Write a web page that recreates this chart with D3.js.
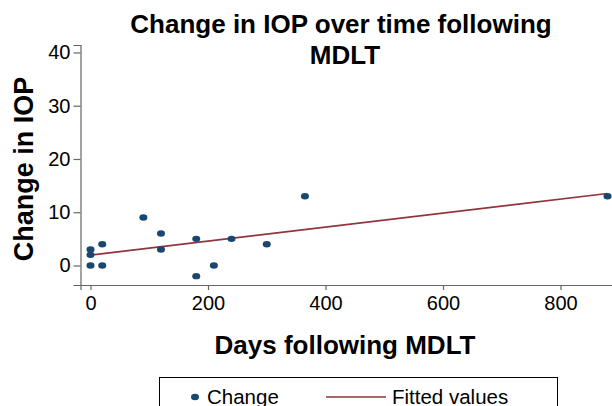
<!DOCTYPE html>
<html>
<head>
<meta charset="utf-8">
<script src="https://cdn.jsdelivr.net/npm/d3@7"></script>
<style>
  body { margin: 0; background: #fff; }
  svg { font-family: Arial, "Liberation Sans", sans-serif; }
</style>
</head>
<body>
<svg id="svg" width="612" height="406"></svg>
<script>
// data
var days   = [0, 0, 0, 20, 20, 90, 120, 120, 180, 180, 210, 240, 300, 365, 880];
var change = [3, 2, 0, 0, 4, 9, 6, 3, 5, -2, 0, 5, 4, 13, 13];
var yTicks = [0, 10, 20, 30, 40];
var xTicks = [0, 200, 400, 600, 800];

var svg = d3.select("#svg");
var navy = "#1a476f", maroon = "#90353b", axisCol = "#666";

var xScale = d3.scaleLinear().domain([-17, 920]).range([80.5, 631]);
var yScale = d3.scaleLinear().domain([-3.66, 41.4]).range([285, 45]);

// least squares fit
var mx = d3.mean(days), my = d3.mean(change);
var sxy = d3.sum(days, (d, i) => (d - mx) * (change[i] - my));
var sxx = d3.sum(days, d => (d - mx) * (d - mx));
var slope = sxy / sxx, icpt = my - slope * mx;

// axes
var yAxis = svg.append("g")
  .attr("transform", "translate(80.5,0)")
  .call(d3.axisLeft(yScale).tickValues(yTicks).tickSize(7).tickPadding(3));
var xAxis = svg.append("g")
  .attr("transform", "translate(0,285)")
  .call(d3.axisBottom(xScale).tickValues(xTicks).tickSize(5).tickPadding(6));

[yAxis, xAxis].forEach(function(a){
  a.attr("font-size", null).attr("font-family", null);
  a.select(".domain").attr("stroke", axisCol).attr("stroke-width", 1.2);
  a.selectAll(".tick line").attr("stroke", axisCol).attr("stroke-width", 1.2);
  a.selectAll("text").attr("fill", "#000").style("font-size", "20px");
});

// fitted line
var ext = d3.extent(days);
svg.append("line")
  .attr("x1", xScale(ext[0])).attr("y1", yScale(icpt + slope * ext[0]))
  .attr("x2", xScale(ext[1])).attr("y2", yScale(icpt + slope * ext[1]))
  .attr("stroke", maroon).attr("stroke-width", 1.6);

// points
svg.append("g").selectAll("ellipse")
  .data(days)
  .enter()
  .append("ellipse")
  .attr("cx", d => xScale(d))
  .attr("cy", (d, i) => yScale(change[i]))
  .attr("rx", 4).attr("ry", 3.2)
  .attr("fill", navy);

// titles
var title = svg.append("text")
  .attr("text-anchor", "middle").attr("font-weight", "bold").style("font-size", "26px");
title.append("tspan").attr("x", 341).attr("y", 32.5).text("Change in IOP over time following");
title.append("tspan").attr("x", 345).attr("y", 63.5).text("MDLT");

svg.append("text")
  .attr("transform", "translate(33,169) rotate(-90)")
  .attr("text-anchor", "middle").attr("font-weight", "bold").style("font-size", "27px")
  .text("Change in IOP");

svg.append("text")
  .attr("x", 345).attr("y", 353.5)
  .attr("text-anchor", "middle").attr("font-weight", "bold").style("font-size", "26px")
  .text("Days following MDLT");

// legend
var leg = svg.append("g");
leg.append("rect")
  .attr("x", 159.5).attr("y", 377.5).attr("width", 398).attr("height", 60)
  .attr("fill", "#fff").attr("stroke", "#000").attr("stroke-width", 1);
leg.append("ellipse").attr("cx", 195).attr("cy", 397).attr("rx", 4).attr("ry", 3.2).attr("fill", navy);
leg.append("text").attr("x", 207).attr("y", 404).style("font-size", "20.5px").text("Change");
leg.append("line").attr("x1", 326).attr("x2", 386).attr("y1", 397).attr("y2", 397)
  .attr("stroke", maroon).attr("stroke-width", 1.6);
leg.append("text").attr("x", 392).attr("y", 404).style("font-size", "20.5px").text("Fitted values");
</script>
</body>
</html>
